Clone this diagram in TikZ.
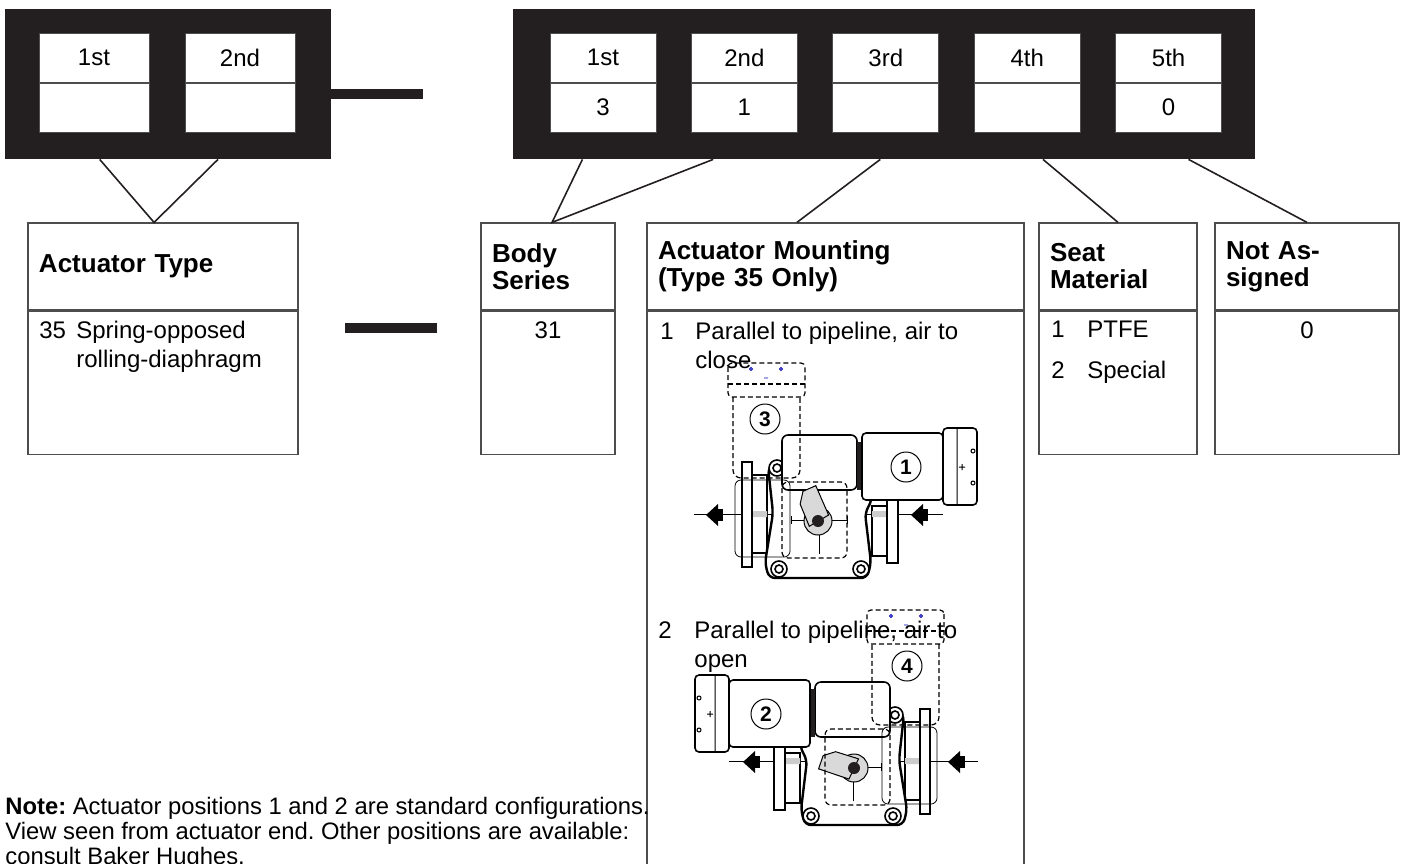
\documentclass[tikz,border=0pt]{standalone}
\usepackage{fontspec}
\setmainfont{Liberation Sans}
\usetikzlibrary{calc}
\definecolor{ink}{RGB}{35,31,32}
\definecolor{rule}{RGB}{77,77,77}
\frenchspacing

\begin{document}
\begin{tikzpicture}[x=0.5pt,y=-0.5pt,
  cell/.style={fill=white,draw=rule,line width=0.5pt,minimum height=24.5pt,inner sep=0pt,font=\fontsize{12}{14}\selectfont},
  hdr/.style={draw=rule,line width=0.6pt,minimum height=43.5pt,inner xsep=5.5pt,inner ysep=0pt,align=left,font=\bfseries\fontsize{13}{13.5}\selectfont},
  bdy/.style={draw=rule,line width=0.6pt,inner sep=0pt,anchor=north},
  txt/.style={inner sep=0pt,align=left,anchor=base west,font=\fontsize{12}{14.5}\selectfont},
  bar/.style={fill=ink,minimum width=46pt,minimum height=5pt,inner sep=0pt},
  lnk/.style={ink,line width=0.8pt},
  posnum/.style={draw,circle,line width=0.5pt,minimum size=15pt,inner sep=0pt,font=\bfseries\fontsize{10.5}{10.5}\selectfont},
  alt/.style={line width=0.6pt,dash pattern=on 2.5pt off 1.5pt},
  flow/.pic={\fill (0,0) -- (12,-11) -- (12,11) -- cycle; \fill (12,-6) rectangle (17,6);},
  pics/mount/.style={code={
    \draw[line width=0.4pt] (-124,-7) -- (125,-7);
    \draw[line width=0.8pt,fill=white] (-66,-46) rectangle (-51,32) (54,-15) rectangle (69,35);
    \fill[gray!40] (-66,-10) rectangle (-51,-4) (54,-10) rectangle (69,-4);
    \draw[line width=1pt,fill=white] (-76,-59) rectangle (-66,46) (69,-21) rectangle (80,42);
    \draw[line width=1.2pt,fill=white,rounded corners=3pt] (-50,-54) -- (-45,-8) -- (-53,42) -- (-49,57) -- (49,57) -- (53,42) -- (47,-8) -- (54,-21) -- (50,-54) -- cycle;
    \foreach \bx/\by in {-39/48,43/48,-41/-53}
      {\draw[line width=0.8pt,fill=white] (\bx,\by) circle (8); \draw[line width=0.8pt] (\bx,\by) circle (4);}
    \draw[line width=0.8pt,fill=white,rounded corners=3pt] (-36,-86) rectangle (39,-31);
    \fill[ink] (39,-79) rectangle (44,-31);
    \draw[line width=0.8pt,fill=white,rounded corners=2pt] (44,-88) rectangle (125,-21);
    \draw[line width=0.8pt,fill=white,rounded corners=2pt] (125,-93) rectangle (159,-16);
    \draw[line width=0.5pt] (139,-93) -- (139,-16) (155,-70) circle (2) (155,-38) circle (2)
      (141,-54) -- (147,-54) (144,-57) -- (144,-51);
    \draw[line width=0.4pt,rounded corners=3pt] (-83,-41) rectangle (-28,36);
    \draw[line width=0.5pt] (-27,-1) -- (29,-1) (1,0) -- (1,33) (-27,-5) -- (-27,3) (29,-5) -- (29,3);
    \filldraw[fill=gray!30,line width=0.5pt] (0,0) circle (14);
    \filldraw[fill=gray!30,line width=0.5pt,rotate=#1] (-10,2) -- (-11,-22) -- (-4,-33) -- (10,-34) -- (12,-2) -- cycle;
    \fill[ink] (0,0) circle (6);
    \draw[alt,rounded corners=2pt] (-90,-158) rectangle (-13,-124);
    \draw[alt] (-90,-137) -- (-13,-137);
    \draw[alt,rounded corners=4pt] (-85,-124) -- (-85,-43) -- (-18,-43) -- (-18,-124);
    \draw[alt,rounded corners=3pt] (-36,-39) rectangle (29,37);
    \draw[blue!70!black,line width=0.4pt] (-67,-152) circle (1.5) (-37,-152) circle (1.5) (-54,-143) -- (-50,-143);
  }}
]
\useasboundingbox (0,0) rectangle (1403,863);

% code blocks
\node[fill=ink,minimum width=163pt,minimum height=75pt,inner sep=0pt] (lblk) at (168,84) {};
\node[fill=ink,minimum width=371pt,minimum height=75pt,inner sep=0pt] (rblk) at (884,84) {};
\node[cell,minimum width=55pt] (l1) at (94,57.5) {1st};
\node[cell,minimum width=55pt,anchor=north] (lv1) at (l1.south) {};
\node[cell,minimum width=55pt] (l2) at (240,57.5) {2nd};
\node[cell,minimum width=55pt,anchor=north] (lv2) at (l2.south) {};
\foreach \i/\t/\v in {0/1st/3,1/2nd/1,2/3rd/,3/4th/,4/5th/0}{
  \node[cell,minimum width=53pt] (r\i) at (603+141.4*\i,57.5) {\t};
  \node[cell,minimum width=53pt,anchor=north] (rv\i) at (r\i.south) {\v};
}
\node[bar] (b1) at (377,94) {};
\node[bar] (b2) at (391,328) {};

% boxes
\node[hdr,text width=124pt] (ath) at (163,266.5) {Actuator Type};
\node[bdy,minimum width=135pt,minimum height=71.5pt] (atb) at (ath.south) {};
\node[hdr,text width=56pt] (bsh) at (548,266.5) {Body\\Series};
\node[bdy,minimum width=67pt,minimum height=71.5pt] (bsb) at (bsh.south) {};
\node[hdr,text width=177.5pt] (amh) at (835.5,266.5) {Actuator Mounting\\(Type 35 Only)};
\node[bdy,minimum width=188.5pt,minimum height=285pt] (amb) at (amh.south) {};
\node[hdr,text width=68pt] (smh) at (1118,266.5) {Seat\\Material};
\node[bdy,minimum width=79pt,minimum height=71.5pt] (smb) at (smh.south) {};
\node[hdr,text width=81pt] (nah) at (1307,266.5) {Not As-\\signed};
\node[bdy,minimum width=92pt,minimum height=71.5pt] (nab) at (nah.south) {};

\draw[lnk] ($(lblk.south west)!.291!(lblk.south east)$) -- ($(ath.north west)!.467!(ath.north east)$)
  -- ($(lblk.south west)!.653!(lblk.south east)$);
\draw[lnk] ($(rblk.south west)!.094!(rblk.south east)$) -- ($(bsh.north west)!.53!(bsh.north east)$)
  -- ($(rblk.south west)!.27!(rblk.south east)$);
\draw[lnk] ($(rblk.south west)!.495!(rblk.south east)$) -- ($(amh.north west)!.398!(amh.north east)$);
\draw[lnk] ($(rblk.south west)!.714!(rblk.south east)$) -- (smh.north);
\draw[lnk] ($(rblk.south west)!.91!(rblk.south east)$) -- (nah.north);

% entries (base = last line)
\node[txt] (att) at (39,367) {\makebox[18.5pt][l]{35}Spring-opposed\\\hspace*{18.5pt}rolling-diaphragm};
\node[txt,anchor=base] (bst) at (548,338) {31};
\node[txt] (am1) at (660,368) {\makebox[17.5pt][l]{1}Parallel to pipeline, air to\\\hspace*{17.5pt}close};
\node[txt] (am2) at (658,667) {\makebox[18pt][l]{2}Parallel to pipeline, air to\\\hspace*{18pt}open};
\node[txt] (sm1) at (1051,337) {\makebox[18pt][l]{1}PTFE};
\node[txt] (sm2) at (1051,378) {\makebox[18pt][l]{2}Special};
\node[txt,anchor=base] (nat) at (1307,338) {0};

% mounting views
\pic at (818,521) {mount=20};
\pic[xscale=-1] at (854,768) {mount=-75};
\pic at (706,515) {flow};
\pic at (911,515) {flow};
\pic at (743,762) {flow};
\pic at (948,762) {flow};
\node[posnum] (p1) at (906,467) {1};
\node[posnum] (p3) at (765,419) {3};
\node[posnum] (p2) at (766,714) {2};
\node[posnum] (p4) at (907,666) {4};

\node[txt,font=\fontsize{11.9}{12.5}\selectfont] (note) at (5,864) {\textbf{Note:} Actuator positions 1 and 2 are standard configurations.\\View seen from actuator end. Other positions are available:\\consult Baker Hughes.};
\end{tikzpicture}
\end{document}
